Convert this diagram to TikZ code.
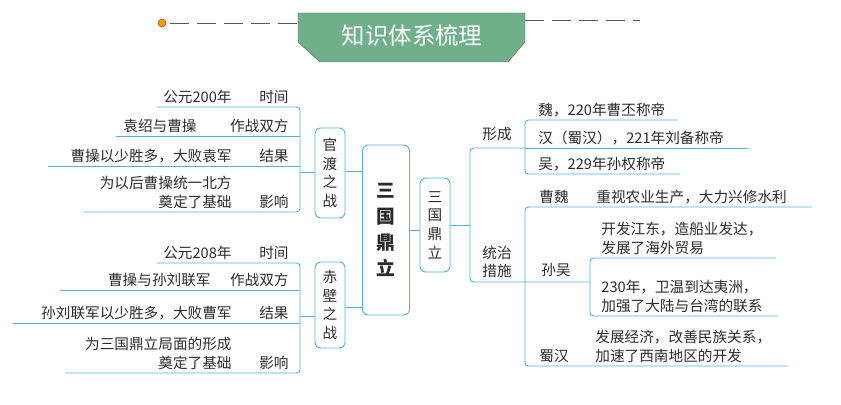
\documentclass[tikz,border=0pt]{standalone}
\usepackage{fontspec}
\setmainfont{Noto Sans CJK SC}
\usetikzlibrary{positioning}
\definecolor{lineblue}{HTML}{4FB3D9}
\definecolor{banner}{HTML}{6FB08A}
\definecolor{ink}{HTML}{2B2B2B}
\tikzset{
  line/.style={lineblue,thick,rounded corners=3pt},
  box/.style={draw=lineblue,thick,rounded corners=5pt,align=center,inner sep=2pt,text=ink},
  txt/.style={text=ink,inner sep=1pt,font=\fontsize{12.5pt}{16pt}\selectfont},
}
\begin{document}
\begin{tikzpicture}[x=0.03cm,y=-0.03cm,font=\fontsize{12.5pt}{16pt}\selectfont]
  \useasboundingbox (0,0) rectangle (841,405);
  % title
  \draw[dash pattern=on 16pt off 7pt,gray!70!black,thick] (170,23)--(298,23) (525,20)--(640,20);
  \fill[orange!80!yellow,draw=orange!60!black] (162,23) circle (4);
  \draw[black!60,fill=banner] (298,13)--(525,13)--(525,42)--(508,62)--(320,62)--(298,42)--cycle;
  \node[text=white,font=\fontsize{20pt}{22pt}\selectfont] (title) at (412,36) {知识体系梳理};
  % centre boxes
  \node[box,minimum width=47*0.03cm,minimum height=170*0.03cm,font=\fontsize{16pt}{22pt}\selectfont\bfseries] (sg) at (386,230) {三\\国\\鼎\\立};
  \node[box,minimum width=30*0.03cm,minimum height=94*0.03cm] (sgr) at (435,225) {三\\国\\鼎\\立};
  \node[box,minimum width=30*0.03cm,minimum height=90*0.03cm] (gd) at (330,173) {官\\渡\\之\\战};
  \node[box,minimum width=30*0.03cm,minimum height=86*0.03cm] (cb) at (330,305) {赤\\壁\\之\\战};
  \draw[line] (gd.east|-0,171)--(sg.west|-0,171);
  \draw[line] (cb.east|-0,307)--(sg.west|-0,307);
  \draw[line] (sg.east|-0,230)--(sgr.west|-0,230);
  % guandu
  \draw[line] (157,107)--(300,107)--(300,212)--(83,212);
  \draw[line] (116,136)--(300,136);
  \draw[line] (48,166)--(300,166);
  \draw[line] (300,172)--(gd.west|-0,172);
  \foreach \y/\x/\v/\k in {105/233/公元200年/时间,134/198/袁绍与曹操/作战双方,164/233/曹操以少胜多，大败袁军/结果}{
    \node[txt,anchor=south east] at (290,\y) {\k};
    \node[txt,anchor=south east] at (\x,\y) {\v};}
  \node[txt,anchor=south east] at (290,210) {影响};
  \node[txt,anchor=south east,align=right] at (233,210) {为以后曹操统一北方\\奠定了基础};
  % chibi
  \draw[line] (157,263)--(300,263)--(300,373)--(65,373);
  \draw[line] (60,290)--(300,290);
  \draw[line] (13,323)--(300,323);
  \draw[line] (300,316)--(cb.west|-0,316);
  \foreach \y/\x/\v/\k in {261/233/公元208年/时间,288/212/曹操与孙刘联军/作战双方,321/233/孙刘联军以少胜多，大败曹军/结果}{
    \node[txt,anchor=south east] at (290,\y) {\k};
    \node[txt,anchor=south east] at (\x,\y) {\v};}
  \node[txt,anchor=south east] at (290,371) {影响};
  \node[txt,anchor=south east,align=right] at (233,371) {为三国鼎立局面的形成\\奠定了基础};
  % right side
  \draw[line] (sgr.east|-0,225)--(470,225);
  \draw[line] (525,148)--(470,148)--(470,282)--(590,282);
  \node[txt] (xc) at (497,134) {形成};
  \draw[line] (678,120)--(525,120)--(525,174)--(680,174);
  \draw[line] (525,148)--(748,148);
  \node[txt,anchor=south west] at (537,118) {魏，220年曹丕称帝};
  \node[txt,anchor=south west] at (537,146) {汉（蜀汉），221年刘备称帝};
  \node[txt,anchor=south west] at (537,172) {吴，229年孙权称帝};
  \node[txt,align=left] (zz) at (497,262) {统治\\措施};
  \draw[line] (812,207)--(525,207)--(525,366)--(788,366);
  \node[txt,anchor=south west] at (538,205) {曹魏};
  \node[txt,anchor=south west] at (595,205) {重视农业生产，大力兴修水利};
  \node[txt] at (556,270) {孙吴};
  \draw[line] (776,258)--(590,258)--(590,316)--(778,316);
  \node[txt,anchor=south west,align=left] at (600,256) {开发江东，造船业发达，\\发展了海外贸易};
  \node[txt,anchor=south west,align=left] at (600,314) {230年，卫温到达夷洲，\\加强了大陆与台湾的联系};
  \node[txt,anchor=south west] at (538,364) {蜀汉};
  \node[txt,anchor=south west,align=left] at (594,364) {发展经济，改善民族关系，\\加速了西南地区的开发};
\end{tikzpicture}
\end{document}
